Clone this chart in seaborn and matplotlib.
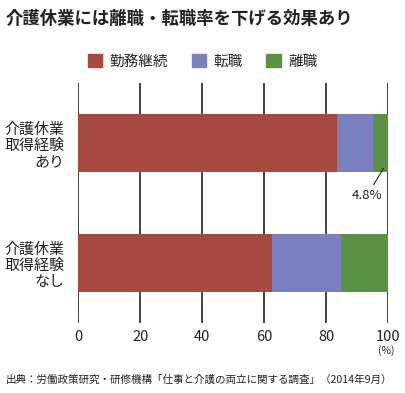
import pandas as pd
import seaborn as sns
import matplotlib.pyplot as plt

# data (%)
groups = ['介護休業\n取得経験\nあり', '介護休業\n取得経験\nなし']
keizoku = [83.7, 62.5]   # 勤務継続
tenshoku = [11.5, 22.2]  # 転職
rishoku = [4.8, 15.3]    # 離職
series_names = ['勤務継続', '転職', '離職']
colors = ['#a64a41', '#7a80bf', '#5a9142']
ticks = [0, 20, 40, 60, 80, 100]

sns.set_style('white')
plt.rcParams['font.family'] = ['Noto Sans CJK JP', 'DejaVu Sans']

df = pd.DataFrame({'group': groups, '勤務継続': keizoku, '転職': tenshoku, '離職': rishoku})
# cumulative totals, drawn from the longest down so they stack
df['c1'] = df['勤務継続']
df['c2'] = df['c1'] + df['転職']
df['c3'] = df['c2'] + df['離職']

fig = plt.figure(figsize=(4.05, 3.93), dpi=100)
ax = fig.add_axes([0.193, 0.178, 0.765, 0.611])

for col, c in zip(['c3', 'c2', 'c1'], colors[::-1]):
    sns.barplot(data=df, x=col, y='group', color=c, width=0.483,
                saturation=1, ax=ax, edgecolor='none', zorder=2)

ax.set_xlim(0, 100)
ax.set_ylim(1.5, -0.5)
ax.set_xticks(ticks)
ax.set_xticklabels([str(t) for t in ticks], fontsize=10.5, color='#222222')
ax.tick_params(axis='x', length=0, pad=5)
ax.tick_params(axis='y', length=0, pad=10)
for lbl in ax.get_yticklabels():
    lbl.set_fontsize(10.8)
    lbl.set_multialignment('right')
    lbl.set_linespacing(1.2)
    lbl.set_color('#222222')
ax.set_xlabel('')
ax.set_ylabel('')
for s in ax.spines.values():
    s.set_visible(False)
for t in ticks:
    ax.axvline(t, color='#111111', lw=1.1, zorder=1)

# legend
handles = [plt.Rectangle((0, 0), 1, 1, color=c) for c in colors]
fig.legend(handles, series_names, loc='center', bbox_to_anchor=(0.5, 0.843),
           ncol=3, frameon=False, fontsize=10.5, handlelength=1.0, handleheight=1.0,
           handletextpad=0.5, columnspacing=1.6)

# 4.8% annotation
ax.annotate('4.8%', xy=(98.6, 0.21), xytext=(93.2, 0.44), fontsize=9.5,
            ha='center', va='center', color='#222222',
            arrowprops=dict(arrowstyle='-', color='#222222', lw=0.8, shrinkB=0, shrinkA=1))

fig.text(0.953, 0.107, '(%)', ha='center', va='center', fontsize=7.5, color='#222222')
fig.text(0.015, 0.952, '介護休業には離職・転職率を下げる効果あり', fontsize=12.5,
         fontweight='bold', color='#222222', va='center')
fig.text(0.015, 0.033, '出典：労働政策研究・研修機構「仕事と介護の両立に関する調査」（2014年9月）',
         fontsize=7.6, color='#222222', va='center')

fig.savefig('out.png', dpi=100, facecolor='white')
